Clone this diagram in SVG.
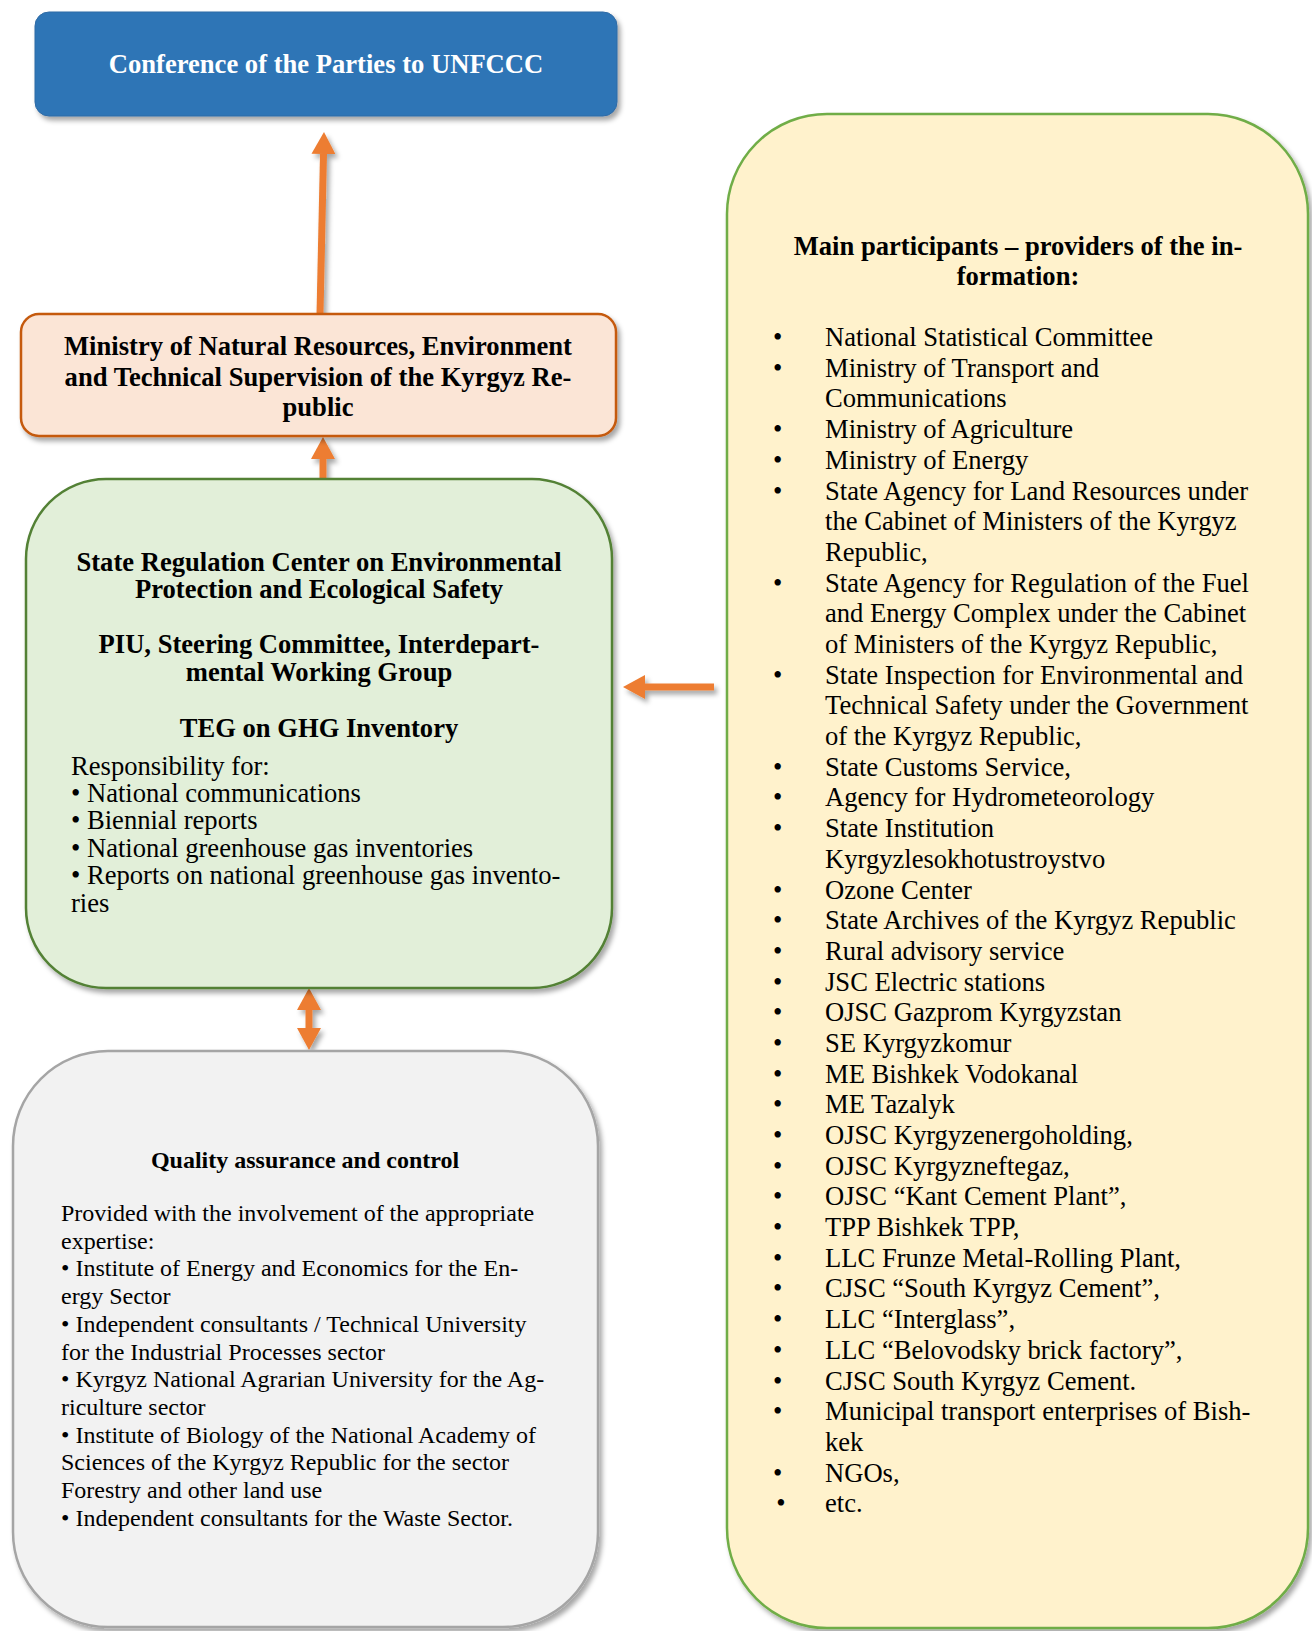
<svg xmlns="http://www.w3.org/2000/svg" width="1312" height="1631" viewBox="0 0 1312 1631">
<defs>
<filter id="sh" x="-10%" y="-10%" width="130%" height="130%">
<feDropShadow dx="3" dy="4" stdDeviation="2.5" flood-color="#000" flood-opacity="0.35"/>
</filter>
<marker id="ah" viewBox="0 0 22 24" markerWidth="22" markerHeight="24" refX="0" refY="12" markerUnits="userSpaceOnUse" orient="auto-start-reverse">
<path d="M0,0 L22,12 L0,24 z" fill="#ED7D31"/>
</marker>
</defs>
<style>
text{font-family:"Liberation Serif","Times New Roman",serif;fill:#000}
.b{font-weight:bold}
.c{text-anchor:middle}
.t{font-size:26.6px}
.s{font-size:24px}
.con{stroke:#ED7D31;stroke-width:7;fill:none}
</style>
<rect width="1312" height="1631" fill="#fff"/>

<g id="connectors" filter="url(#sh)">
<line class="con" x1="320" y1="314" x2="323.5" y2="154" marker-end="url(#ah)"/>
<line class="con" x1="323" y1="479" x2="323" y2="459" marker-end="url(#ah)"/>
<line class="con" x1="714" y1="687" x2="645" y2="687" marker-end="url(#ah)"/>
<line class="con" x1="309" y1="1010" x2="309" y2="1028" marker-start="url(#ah)" marker-end="url(#ah)"/>
</g>

<g id="cop">
<rect x="35" y="12" width="582" height="104" rx="14" fill="#2E75B6" stroke="#2E6AA5" stroke-width="1" filter="url(#sh)"/>
<text class="b c t" x="326" y="73" style="fill:#fff">Conference of the Parties to UNFCCC</text>
</g>

<g id="ministry">
<rect x="21" y="314" width="595" height="122" rx="18" fill="#FBE5D6" stroke="#C55A11" stroke-width="2.5" filter="url(#sh)"/>
<text class="b c t" x="318"><tspan x="318" y="355">Ministry of Natural Resources, Environment</tspan><tspan x="318" y="386">and Technical Supervision of the Kyrgyz Re-</tspan><tspan x="318" y="416">public</tspan></text>
</g>

<g id="center">
<rect x="26" y="479" width="586" height="509" rx="80" fill="#E2EFD9" stroke="#538135" stroke-width="2.5" filter="url(#sh)"/>
<text class="b c t"><tspan x="319" y="571">State Regulation Center on Environmental</tspan><tspan x="319" y="598">Protection and Ecological Safety</tspan><tspan x="319" y="653">PIU, Steering Committee, Interdepart-</tspan><tspan x="319" y="681">mental Working Group</tspan><tspan x="319" y="737">TEG on GHG Inventory</tspan></text>
<text class="t"><tspan x="71" y="775">Responsibility for:</tspan><tspan x="71" y="802">• National communications</tspan><tspan x="71" y="829">• Biennial reports</tspan><tspan x="71" y="857">• National greenhouse gas inventories</tspan><tspan x="71" y="884">• Reports on national greenhouse gas invento-</tspan><tspan x="71" y="912">ries</tspan></text>
</g>

<g id="qa">
<rect x="13" y="1051" width="585" height="576" rx="95" fill="#F2F2F2" stroke="#A5A5A5" stroke-width="2.5" filter="url(#sh)"/>
<text class="b c s" x="305" y="1168">Quality assurance and control</text>
<text class="s"><tspan x="61" y="1221">Provided with the involvement of the appropriate</tspan><tspan x="61" y="1249">expertise:</tspan><tspan x="61" y="1276">• Institute of Energy and Economics for the En-</tspan><tspan x="61" y="1304">ergy Sector</tspan><tspan x="61" y="1332">• Independent consultants / Technical University</tspan><tspan x="61" y="1360">for the Industrial Processes sector</tspan><tspan x="61" y="1387">• Kyrgyz National Agrarian University for the Ag-</tspan><tspan x="61" y="1415">riculture sector</tspan><tspan x="61" y="1443">• Institute of Biology of the National Academy of</tspan><tspan x="61" y="1470">Sciences of the Kyrgyz Republic for the sector</tspan><tspan x="61" y="1498">Forestry and other land use</tspan><tspan x="61" y="1526">• Independent consultants for the Waste Sector.</tspan></text>
</g>

<g id="participants">
<rect x="727" y="114" width="581" height="1514" rx="100" fill="#FFF2CC" stroke="#70AD47" stroke-width="2.5" filter="url(#sh)"/>
<text class="b c t"><tspan x="1018" y="255">Main participants – providers of the in-</tspan><tspan x="1018" y="285">formation:</tspan></text>
<text class="t c">
<tspan x="781" y="346">•</tspan>
<tspan x="781" y="376.7">•</tspan>
<tspan x="781" y="438.1">•</tspan>
<tspan x="781" y="468.8">•</tspan>
<tspan x="781" y="499.5">•</tspan>
<tspan x="781" y="591.5">•</tspan>
<tspan x="781" y="683.6">•</tspan>
<tspan x="781" y="775.7">•</tspan>
<tspan x="781" y="806.4">•</tspan>
<tspan x="781" y="837.1">•</tspan>
<tspan x="781" y="898.5">•</tspan>
<tspan x="781" y="929.1">•</tspan>
<tspan x="781" y="959.8">•</tspan>
<tspan x="781" y="990.5">•</tspan>
<tspan x="781" y="1021.2">•</tspan>
<tspan x="781" y="1051.9">•</tspan>
<tspan x="781" y="1082.6">•</tspan>
<tspan x="781" y="1113.3">•</tspan>
<tspan x="781" y="1144">•</tspan>
<tspan x="781" y="1174.7">•</tspan>
<tspan x="781" y="1205.4">•</tspan>
<tspan x="781" y="1236">•</tspan>
<tspan x="781" y="1266.7">•</tspan>
<tspan x="781" y="1297.4">•</tspan>
<tspan x="781" y="1328.1">•</tspan>
<tspan x="781" y="1358.8">•</tspan>
<tspan x="781" y="1389.5">•</tspan>
<tspan x="781" y="1420.2">•</tspan>
<tspan x="781" y="1481.6">•</tspan>
<tspan x="781" y="1512.3">•</tspan>
</text>
<text class="t">
<tspan x="825" y="346">National Statistical Committee</tspan>
<tspan x="825" y="376.7">Ministry of Transport and</tspan>
<tspan x="825" y="407.4">Communications</tspan>
<tspan x="825" y="438.1">Ministry of Agriculture</tspan>
<tspan x="825" y="468.8">Ministry of Energy</tspan>
<tspan x="825" y="499.5">State Agency for Land Resources under</tspan>
<tspan x="825" y="530.1">the Cabinet of Ministers of the Kyrgyz</tspan>
<tspan x="825" y="560.8">Republic,</tspan>
<tspan x="825" y="591.5">State Agency for Regulation of the Fuel</tspan>
<tspan x="825" y="622.2">and Energy Complex under the Cabinet</tspan>
<tspan x="825" y="652.9">of Ministers of the Kyrgyz Republic,</tspan>
<tspan x="825" y="683.6">State Inspection for Environmental and</tspan>
<tspan x="825" y="714.3">Technical Safety under the Government</tspan>
<tspan x="825" y="745">of the Kyrgyz Republic,</tspan>
<tspan x="825" y="775.7">State Customs Service,</tspan>
<tspan x="825" y="806.4">Agency for Hydrometeorology</tspan>
<tspan x="825" y="837.1">State Institution</tspan>
<tspan x="825" y="867.8">Kyrgyzlesokhotustroystvo</tspan>
<tspan x="825" y="898.5">Ozone Center</tspan>
<tspan x="825" y="929.1">State Archives of the Kyrgyz Republic</tspan>
<tspan x="825" y="959.8">Rural advisory service</tspan>
<tspan x="825" y="990.5">JSC Electric stations</tspan>
<tspan x="825" y="1021.2">OJSC Gazprom Kyrgyzstan</tspan>
<tspan x="825" y="1051.9">SE Kyrgyzkomur</tspan>
<tspan x="825" y="1082.6">ME Bishkek Vodokanal</tspan>
<tspan x="825" y="1113.3">ME Tazalyk</tspan>
<tspan x="825" y="1144">OJSC Kyrgyzenergoholding,</tspan>
<tspan x="825" y="1174.7">OJSC Kyrgyzneftegaz,</tspan>
<tspan x="825" y="1205.4">OJSC “Kant Cement Plant”,</tspan>
<tspan x="825" y="1236">TPP Bishkek TPP,</tspan>
<tspan x="825" y="1266.7">LLC Frunze Metal-Rolling Plant,</tspan>
<tspan x="825" y="1297.4">CJSC “South Kyrgyz Cement”,</tspan>
<tspan x="825" y="1328.1">LLC “Interglass”,</tspan>
<tspan x="825" y="1358.8">LLC “Belovodsky brick factory”,</tspan>
<tspan x="825" y="1389.5">CJSC South Kyrgyz Cement.</tspan>
<tspan x="825" y="1420.2">Municipal transport enterprises of Bish-</tspan>
<tspan x="825" y="1450.9">kek</tspan>
<tspan x="825" y="1481.6">NGOs,</tspan>
<tspan x="825" y="1512.3">etc.</tspan>
</text>
</g>
</svg>
